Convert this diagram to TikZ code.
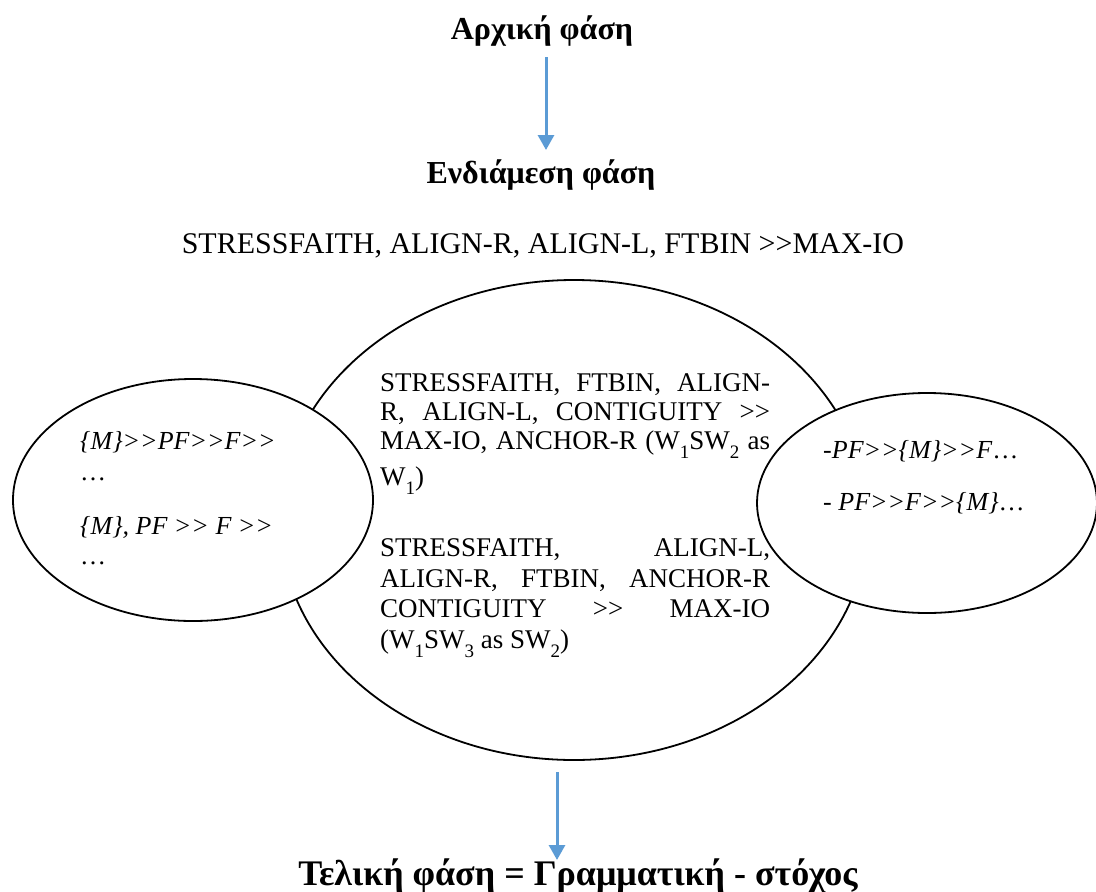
\documentclass[tikz,border=0pt]{standalone}
\usepackage{fontspec}
\setmainfont{Liberation Serif}[Ligatures=TeXOff]
\usetikzlibrary{arrows.meta,shapes.geometric}
\definecolor{arrowblue}{HTML}{5B9BD5}
\newcommand\sbx[1]{\raisebox{-0.34em}{\fontsize{19}{19}\selectfont #1}}
\newcommand\jline[1]{\makebox[390pt][s]{#1}}
\begin{document}
\begin{tikzpicture}[x=1pt,y=-1pt,
  title/.style={font=\fontsize{32}{36}\selectfont\bfseries, anchor=base, inner sep=0pt},
  body/.style={font=\fontsize{27}{30}\selectfont, anchor=base west, inner sep=0pt},
  ell/.style={draw, ellipse, line width=1.8pt, fill=white, inner sep=0pt},
  flow/.style={draw=arrowblue, line width=3pt, -{Triangle[width=16pt,length=15pt]}}]
\useasboundingbox (0,0) rectangle (1096,892);

% titles
\node[title] (t1) at (542,39) {Αρχική φάση};
\node[title] (t2) at (541,183) {Ενδιάμεση φάση};
\node[font=\fontsize{30}{34}\selectfont, anchor=base, inner sep=0pt] (rank) at (543,253)
  {STRESSFAITH, ALIGN-R, ALIGN-L, FTBIN >>MAX-IO};
\node[title, font=\fontsize{36}{40}\selectfont\bfseries] (t3) at (578,885)
  {Τελική φάση = Γραμματική - στόχος};

% arrows
\coordinate (a1s) at (546,57);
\coordinate (a1e) at (546,150);
\coordinate (a2s) at (557,772);
\coordinate (a2e) at (557,860);
\draw[flow] (a1s) -- (a1e);
\draw[flow] (a2s) -- (a2e);

% ellipses
\node[ell, minimum width=588pt, minimum height=480pt] (big) at (574,520) {};
\node[ell, minimum width=360pt, minimum height=242pt] (left) at (193,500) {};
\node[ell, minimum width=340pt, minimum height=220pt] (right) at (927,503) {};

% big ellipse text
\node[body] (p1a) at (380,391) {\jline{STRESSFAITH, FTBIN, ALIGN-}};
\node[body] (p1b) at (380,420) {\jline{R, ALIGN-L, CONTIGUITY >>}};
\node[body] (p1c) at (380,449) {\jline{MAX-IO, ANCHOR-R (W\sbx{1}SW\sbx{2} as}};
\node[body] (p1d) at (380,485) {W\sbx{1})};
\node[body] (p2a) at (380,556) {\jline{STRESSFAITH, ALIGN-L,}};
\node[body] (p2b) at (380,587) {\jline{ALIGN-R, FTBIN, ANCHOR-R}};
\node[body] (p2c) at (380,617) {\jline{CONTIGUITY >> MAX-IO}};
\node[body] (p2d) at (380,648) {(W\sbx{1}SW\sbx{3} as SW\sbx{2})};

% left ellipse text
\node[body, font=\fontsize{26}{30}\selectfont\itshape] (l1) at (80,449) {\{M\}>>PF>>F>>};
\node[body, font=\fontsize{26}{30}\selectfont] (l2) at (80,480) {…};
\node[body, font=\fontsize{26}{30}\selectfont\itshape] (l3) at (80,534) {\{M\}, PF >> F >>};
\node[body, font=\fontsize{26}{30}\selectfont] (l4) at (80,564) {…};

% right ellipse text
\node[body, font=\fontsize{26}{30}\selectfont] (r1) at (823,458) {\textit{-PF>>\{M\}>>F}…};
\node[body, font=\fontsize{26}{30}\selectfont] (r2) at (823,510) {- \textit{PF>>F>>\{M\}}…};
\end{tikzpicture}
\end{document}
